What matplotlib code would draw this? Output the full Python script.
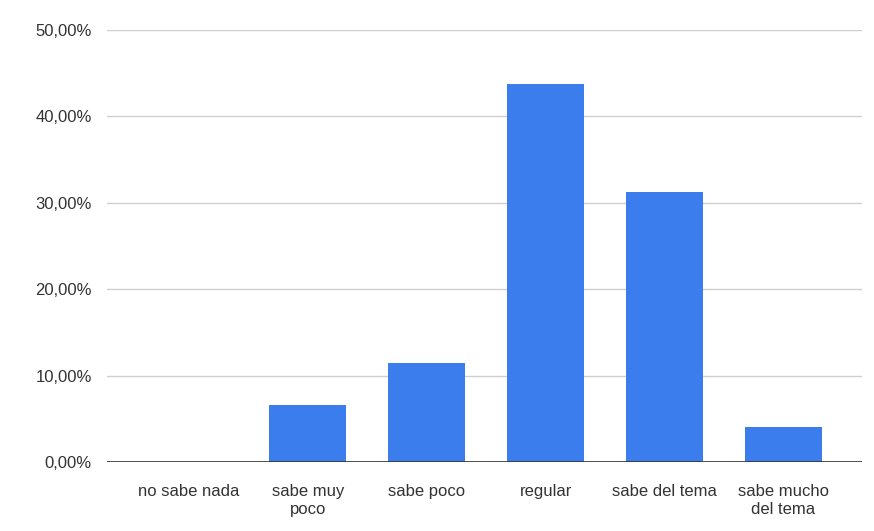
import matplotlib.pyplot as plt
from matplotlib.ticker import FuncFormatter

categorias = ['no sabe nada', 'sabe muy\npoco', 'sabe poco', 'regular',
              'sabe del tema', 'sabe mucho\ndel tema']
porcentajes = [0.0, 6.6, 11.4, 43.7, 31.3, 4.1]
ticks_y = [0, 10, 20, 30, 40, 50]

plt.rcParams['font.family'] = ['Liberation Sans', 'DejaVu Sans']

fig = plt.figure(figsize=(8.74, 5.31), dpi=100)
ax = fig.add_axes([0.1224, 0.130, 0.8636, 0.8135])

x = range(len(categorias))
ax.bar(x, porcentajes, width=0.65, color='#3b7ded', zorder=3)

ax.set_ylim(0, 50)
ax.set_xlim(-0.69, 5.66)
ax.set_yticks(ticks_y)
ax.yaxis.set_major_formatter(FuncFormatter(lambda v, _: f'{v:.2f}%'.replace('.', ',')))
ax.grid(axis='y', color='#cfcfcf', linewidth=1, zorder=0)
ax.axhline(0, color='#333333', linewidth=1.2, zorder=4)

ax.set_xticks(list(x))
ax.set_xticklabels(categorias, fontsize=12, color='#333333', linespacing=1.25)
ax.tick_params(axis='y', labelsize=12, labelcolor='#333333', length=0, pad=11)
ax.tick_params(axis='x', length=0, pad=16)

for s in ax.spines.values():
    s.set_visible(False)

fig.savefig('out.png', dpi=100, facecolor='white')
